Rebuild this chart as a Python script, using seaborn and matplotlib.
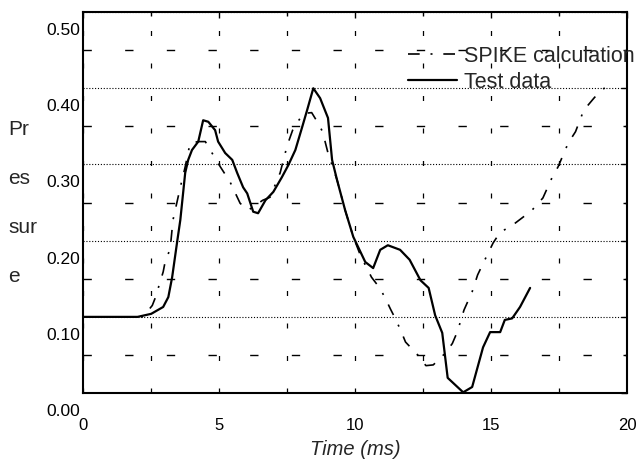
import pandas as pd
import matplotlib.pyplot as plt
import matplotlib.transforms as mtransforms
from matplotlib.ticker import MultipleLocator
import seaborn as sns

# Test data (solid)
test_time = [0, 2.0, 2.5, 2.94, 3.13, 3.27, 3.46, 3.57, 3.75, 3.86, 4.0, 4.23, 4.41, 4.6,
             4.85, 4.96, 5.22, 5.48, 5.66, 5.88, 6.03, 6.25, 6.43, 6.7, 6.99, 7.3, 7.54,
             7.8, 8.05, 8.23, 8.46, 8.71, 9.0, 9.15, 9.33, 9.63, 9.93, 10.37, 10.66, 10.92,
             11.2, 11.65, 12.0, 12.4, 12.7, 12.94, 13.2, 13.4, 13.97, 14.3, 14.7, 14.96,
             15.33, 15.5, 15.77, 16.06, 16.43]
test_pressure = [0.10, 0.10, 0.104, 0.113, 0.126, 0.152, 0.20, 0.227, 0.289, 0.306, 0.319,
                 0.33, 0.358, 0.356, 0.345, 0.33, 0.315, 0.306, 0.289, 0.27, 0.262, 0.238,
                 0.236, 0.253, 0.264, 0.283, 0.299, 0.319, 0.349, 0.371, 0.40, 0.387, 0.361,
                 0.306, 0.28, 0.24, 0.205, 0.172, 0.164, 0.188, 0.194, 0.188, 0.175, 0.148,
                 0.138, 0.102, 0.079, 0.02, 0.001, 0.008, 0.06, 0.08, 0.08, 0.096, 0.098,
                 0.113, 0.138]

# SPIKE calculation (dash-dot)
spike_time = [0, 2.2, 2.54, 2.65, 2.94, 3.0, 3.2, 3.3, 3.57, 3.75, 3.93, 4.23, 4.49, 4.67,
              5.04, 5.4, 5.77, 6.07, 6.6, 6.87, 7.24, 7.5, 7.7, 7.87, 8.1, 8.4, 8.64, 8.8,
              9.0, 9.33, 9.63, 9.93, 10.2, 10.6, 10.9, 11.1, 11.3, 11.5, 11.7, 11.85, 12.3,
              12.6, 12.87, 13.3, 13.57, 13.75, 14.0, 14.3, 14.5, 14.7, 15.07, 15.33, 15.77,
              16.14, 16.5, 16.9, 17.24, 17.46, 17.83, 18.1, 18.4, 18.8, 19.45]
spike_pressure = [0.10, 0.10, 0.115, 0.125, 0.159, 0.17, 0.19, 0.227, 0.27, 0.297, 0.328,
                  0.33, 0.33, 0.319, 0.297, 0.277, 0.249, 0.24, 0.253, 0.257, 0.289, 0.325,
                  0.345, 0.355, 0.367, 0.368, 0.354, 0.343, 0.315, 0.28, 0.24, 0.205, 0.18,
                  0.152, 0.138, 0.125, 0.11, 0.096, 0.08, 0.067, 0.05, 0.036, 0.037, 0.052,
                  0.065, 0.08, 0.109, 0.133, 0.155, 0.17, 0.197, 0.211, 0.22, 0.23, 0.24,
                  0.256, 0.283, 0.297, 0.328, 0.343, 0.371, 0.388, 0.41]

x_ticks = [0, 5, 10, 15, 20]
y_ticks = [0.0, 0.1, 0.2, 0.3, 0.4, 0.5]
y_ticklabels = ['0.00', '0.10', '0.20', '0.30', '0.40', '0.50']

spike = pd.DataFrame({'t': spike_time, 'p': spike_pressure})
test = pd.DataFrame({'t': test_time, 'p': test_pressure})

sns.set_theme(style="white")
plt.rcParams['font.family'] = ['Liberation Sans', 'DejaVu Sans']

fig = plt.figure(figsize=(6.4, 4.63), dpi=100)
ax = fig.add_axes([0.13, 0.151, 0.85, 0.823])

sns.lineplot(data=spike, x='t', y='p', ax=ax, color='black', linewidth=1.2,
             linestyle=(0, (7, 6.5, 1.2, 6.5)), label='SPIKE calculation')
sns.lineplot(data=test, x='t', y='p', ax=ax, color='black', linewidth=1.6,
             label='Test data')

ax.set_xlim(0, 20)
ax.set_ylim(0, 0.5)
ax.set_xticks(x_ticks)
ax.set_xticklabels([str(v) for v in x_ticks])
ax.set_yticks(y_ticks)
ax.set_yticklabels(y_ticklabels)
ax.xaxis.set_minor_locator(MultipleLocator(2.5))
ax.yaxis.set_minor_locator(MultipleLocator(0.05))

# grid: dotted at 0.1 steps, sparse dashes elsewhere
ax.grid(which='major', axis='y', color='black', linewidth=0.8, linestyle=(0, (1, 1.6)))
ax.grid(which='minor', axis='y', color='black', linewidth=1.0, linestyle=(0, (6, 24)))
ax.grid(which='both', axis='x', color='black', linewidth=0.9, linestyle=(0, (4, 22)))

for s in ax.spines.values():
    s.set_color('black')
    s.set_linewidth(1.5)

ax.tick_params(which='both', direction='in', top=True, right=True, color='black')
ax.tick_params(which='major', length=4, width=1)
ax.tick_params(which='minor', length=3, width=1)
ax.tick_params(axis='x', labelsize=12, pad=18, colors='black')
ax.tick_params(axis='y', labelsize=12.5, pad=2, colors='black')

# y tick labels sit lower than their lines in the original
shift = mtransforms.ScaledTranslation(0, -17 / 100, fig.dpi_scale_trans)
for lbl in ax.get_yticklabels():
    lbl.set_transform(lbl.get_transform() + shift)

ax.set_xlabel('Time (ms)', fontsize=14.5, fontstyle='italic', labelpad=5)
ax.set_ylabel('Pr\nes\nsur\ne', fontsize=15, rotation=0, ha='left', va='center',
              linespacing=3.0)
ax.yaxis.set_label_coords(-0.138, 0.5)

ax.legend(loc='upper left', bbox_to_anchor=(0.597, 0.912), frameon=False, fontsize=15.5,
          borderpad=0, borderaxespad=0, handlelength=2.3, handletextpad=0.3,
          labelspacing=0.25)

plt.savefig('out.png', dpi=100)
